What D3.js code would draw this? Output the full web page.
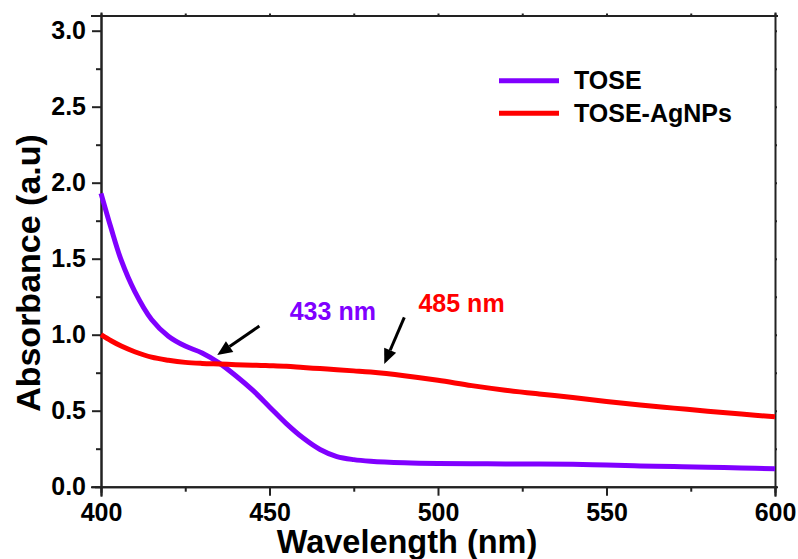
<!DOCTYPE html>
<html>
<head>
<meta charset="utf-8">
<script src="https://cdn.jsdelivr.net/npm/d3@7"></script>
<style>
  html, body { margin: 0; padding: 0; background: #fff; }
  svg { display: block; font-family: "Liberation Sans", Arial, sans-serif; font-weight: bold; }
  .axis path, .axis line { stroke: #222; stroke-width: 2; }
  .axis text { fill: #000; font-size: 25px; font-weight: bold; font-family: "Liberation Sans", Arial, sans-serif; }
</style>
</head>
<body>
<svg id="chart" width="798" height="559"></svg>
<script>
(function () {
  "use strict";

  // wavelength grid (nm) and absorbance
  const wavelength = [400, 403, 406, 410, 415, 420, 425, 430, 435, 440, 445, 450, 455, 460, 465,
    470, 475, 480, 490, 500, 510, 520, 530, 540, 550, 560, 570, 580, 590, 600];
  const tose = [1.93, 1.70, 1.49, 1.285, 1.10, 0.99, 0.925, 0.88, 0.815, 0.73, 0.635, 0.525, 0.415, 0.32, 0.245,
    0.198, 0.178, 0.168, 0.158, 0.153, 0.151, 0.150, 0.149, 0.147, 0.142, 0.137, 0.133, 0.128, 0.123, 0.118];
  const toseAg = [1.0, 0.96, 0.925, 0.888, 0.852, 0.832, 0.818, 0.811, 0.807, 0.803, 0.799, 0.796, 0.792, 0.784, 0.777,
    0.770, 0.762, 0.754, 0.73, 0.70, 0.665, 0.635, 0.61, 0.587, 0.56, 0.537, 0.517, 0.497, 0.478, 0.46];

  const xTicks = [400, 450, 500, 550, 600];
  const yTicks = [0.0, 0.5, 1.0, 1.5, 2.0, 2.5, 3.0];
  const series = [
    { name: "TOSE", values: tose, color: "#8000ff" },
    { name: "TOSE-AgNPs", values: toseAg, color: "#ff0000" },
  ];
  // peak annotations: label anchor and arrow (from -> tip), in data units
  const notes = [
    { label: "433 nm", color: "#8000ff", lx: 456.0, ly: 1.094, from: [447.0, 1.057], tip: [434.5, 0.866] },
    { label: "485 nm", color: "#ff0000", lx: 494.2, ly: 1.151, from: [490.0, 1.114], tip: [484.05, 0.807] },
  ];

  const W = 798, H = 559, m = { t: 15.5, r: 23, b: 72.3, l: 101 };
  const svg = d3.select("#chart");
  const x = d3.scaleLinear().domain([400, 600]).range([m.l, W - m.r]);
  const y = d3.scaleLinear().domain([0, 3.1]).range([H - m.b, m.t]);

  // frame (top/right) with tiny ticks
  svg.append("g").attr("class", "axis").attr("transform", `translate(0,${m.t})`)
    .call(d3.axisTop(x).tickValues(d3.range(400, 601, 25)).tickSize(2).tickFormat(""));
  svg.append("g").attr("class", "axis").attr("transform", `translate(${W - m.r},0)`)
    .call(d3.axisRight(y).tickValues(d3.range(0, 3.01, 0.25)).tickSize(2).tickFormat(""));

  // minor ticks
  svg.append("g").attr("class", "axis").attr("transform", `translate(0,${H - m.b})`)
    .call(d3.axisBottom(x).tickValues(d3.range(425, 600, 50)).tickSize(5).tickFormat(""));
  svg.append("g").attr("class", "axis").attr("transform", `translate(${m.l},0)`)
    .call(d3.axisLeft(y).tickValues(d3.range(0.25, 3, 0.5)).tickSize(5).tickFormat(""));

  // major axes
  svg.append("g").attr("class", "axis").attr("transform", `translate(0,${H - m.b})`)
    .call(d3.axisBottom(x).tickValues(xTicks).tickSize(9).tickPadding(8).tickFormat(d3.format("d")));
  svg.append("g").attr("class", "axis").attr("transform", `translate(${m.l},0)`)
    .call(d3.axisLeft(y).tickValues(yTicks).tickSize(9).tickPadding(6).tickFormat(d3.format(".1f")));
  svg.selectAll(".axis .domain").attr("stroke-linecap", "square");

  // curves
  const line = (vals) => d3.line().x((d, i) => x(wavelength[i])).y((d) => y(d))
    .curve(d3.curveCatmullRom.alpha(0.5))(vals);
  series.forEach((s) => {
    svg.append("path").attr("d", line(s.values)).attr("fill", "none")
      .attr("stroke", s.color).attr("stroke-width", 5).attr("stroke-linejoin", "round");
  });

  // annotations
  notes.forEach((n) => {
    svg.append("text").attr("x", x(n.lx)).attr("y", y(n.ly)).attr("fill", n.color)
      .attr("font-size", 25).text(n.label);
    const x0 = x(n.from[0]), y0 = y(n.from[1]), x1 = x(n.tip[0]), y1 = y(n.tip[1]);
    const a = Math.atan2(y1 - y0, x1 - x0), hl = 15, hw = 6.5;
    const bx = x1 - hl * Math.cos(a), by = y1 - hl * Math.sin(a);
    svg.append("line").attr("x1", x0).attr("y1", y0).attr("x2", bx).attr("y2", by)
      .attr("stroke", "#000").attr("stroke-width", 3);
    svg.append("path").attr("fill", "#000").attr("d",
      `M${x1},${y1}L${bx + hw * Math.sin(a)},${by - hw * Math.cos(a)}` +
      `L${bx - hw * Math.sin(a)},${by + hw * Math.cos(a)}Z`);
  });

  // legend
  const lg = svg.append("g").attr("transform", "translate(499,80.7)");
  series.forEach((s, i) => {
    lg.append("line").attr("x1", 0).attr("x2", 60).attr("y1", i * 32.6).attr("y2", i * 32.6)
      .attr("stroke", s.color).attr("stroke-width", 5);
    lg.append("text").attr("x", 75).attr("y", i * 32.6 + 8.7).attr("font-size", 25)
      .attr("fill", "#000").text(s.name);
  });

  // axis titles
  svg.append("text").attr("x", 407).attr("y", 553).attr("text-anchor", "middle")
    .attr("font-size", 32.5).attr("fill", "#000").text("Wavelength (nm)");
  svg.append("text").attr("transform", "translate(40,273) rotate(-90)").attr("text-anchor", "middle")
    .attr("font-size", 34).attr("fill", "#000").text("Absorbance (a.u)");
})();
</script>
</body>
</html>
